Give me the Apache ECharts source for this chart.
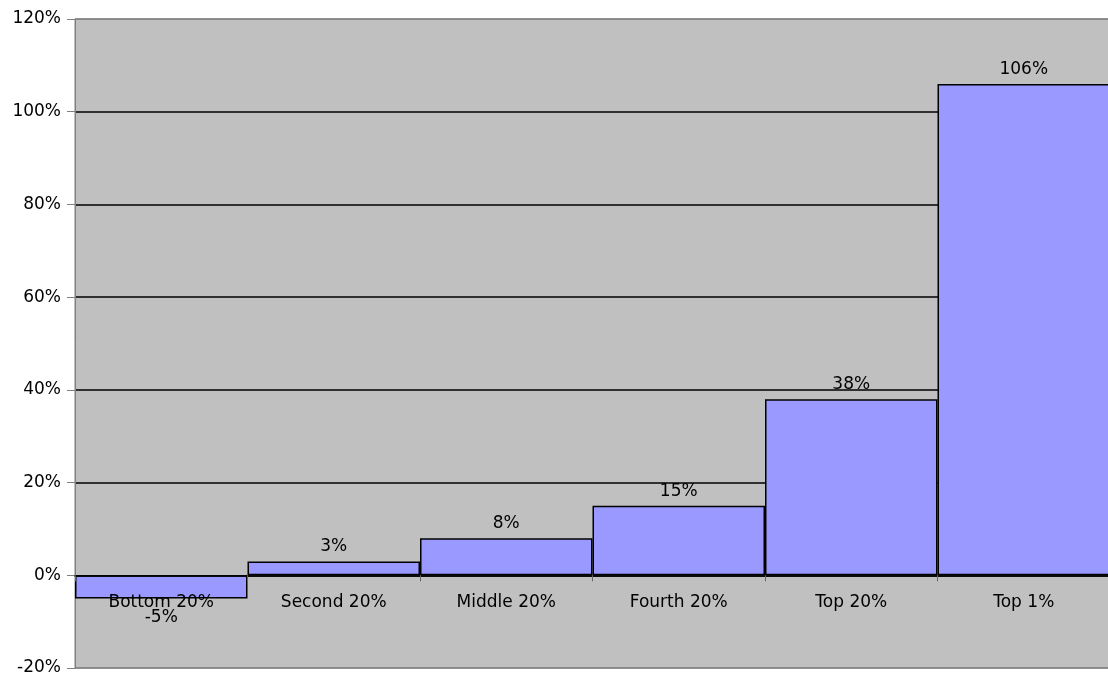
<!DOCTYPE html>
<html><head><meta charset="utf-8">
<script src="https://cdn.jsdelivr.net/npm/echarts@6/dist/echarts.min.js"></script>
<style>html,body{margin:0;padding:0;background:#fff}#c{width:1108px;height:677px}</style>
</head><body><div id="c"></div>
<script>
const categories = ['Bottom 20%', 'Second 20%', 'Middle 20%', 'Fourth 20%', 'Top 20%', 'Top 1%'];
const values = [-5, 3, 8, 15, 38, 106];
const yTicks = [-20, 0, 20, 40, 60, 80, 100, 120];

const font = 'DejaVu Sans';
const gridTop = 19, gridBottom = 9, H = 677;
const plotH = H - gridTop - gridBottom;
const yMin = yTicks[0], yMax = yTicks[yTicks.length - 1];
const zeroOffset = plotH * (0 - yMin) / (yMax - yMin);

const chart = echarts.init(document.getElementById('c'));
chart.setOption({
  animation: false,
  backgroundColor: '#ffffff',
  grid: { left: 75, top: gridTop, right: -2, bottom: gridBottom, containLabel: false, outerBoundsMode: 'none',
          show: true, backgroundColor: '#C0C0C0', borderColor: '#808080', borderWidth: 1 },
  xAxis: {
    type: 'category', data: categories, position: 'bottom', offset: -zeroOffset,
    axisLine: { onZero: false, lineStyle: { color: '#000', width: 1.5 } },
    axisTick: { show: true, length: 6, lineStyle: { color: '#666' } },
    axisLabel: { color: '#000', fontFamily: font, fontSize: 17, margin: 19 },
    z: 10
  },
  yAxis: {
    type: 'value', min: yMin, max: yMax, interval: 20,
    axisLine: { show: true, lineStyle: { color: '#808080' } },
    axisTick: { show: true, length: 8, lineStyle: { color: '#808080' } },
    axisLabel: { color: '#000', fontFamily: font, fontSize: 17, margin: 14, formatter: v => v + '%' },
    splitLine: { show: true, lineStyle: { color: ['#808080', '#000', '#000', '#000', '#000', '#000', '#000', '#808080'], width: 1.5 } }
  },
  series: [{
    type: 'bar', barWidth: '100%', barGap: '0%', barCategoryGap: '0%',
    data: values.map(v => ({ value: v, label: { position: v < 0 ? 'bottom' : 'top', distance: v < 0 ? 11 : 6 } })),
    itemStyle: { color: '#9999FF', borderColor: '#000', borderWidth: 1.5 },
    label: { show: true, color: '#000', fontFamily: font, fontSize: 17, formatter: p => p.value + '%' },
    z: 5
  }]
});
</script></body></html>
